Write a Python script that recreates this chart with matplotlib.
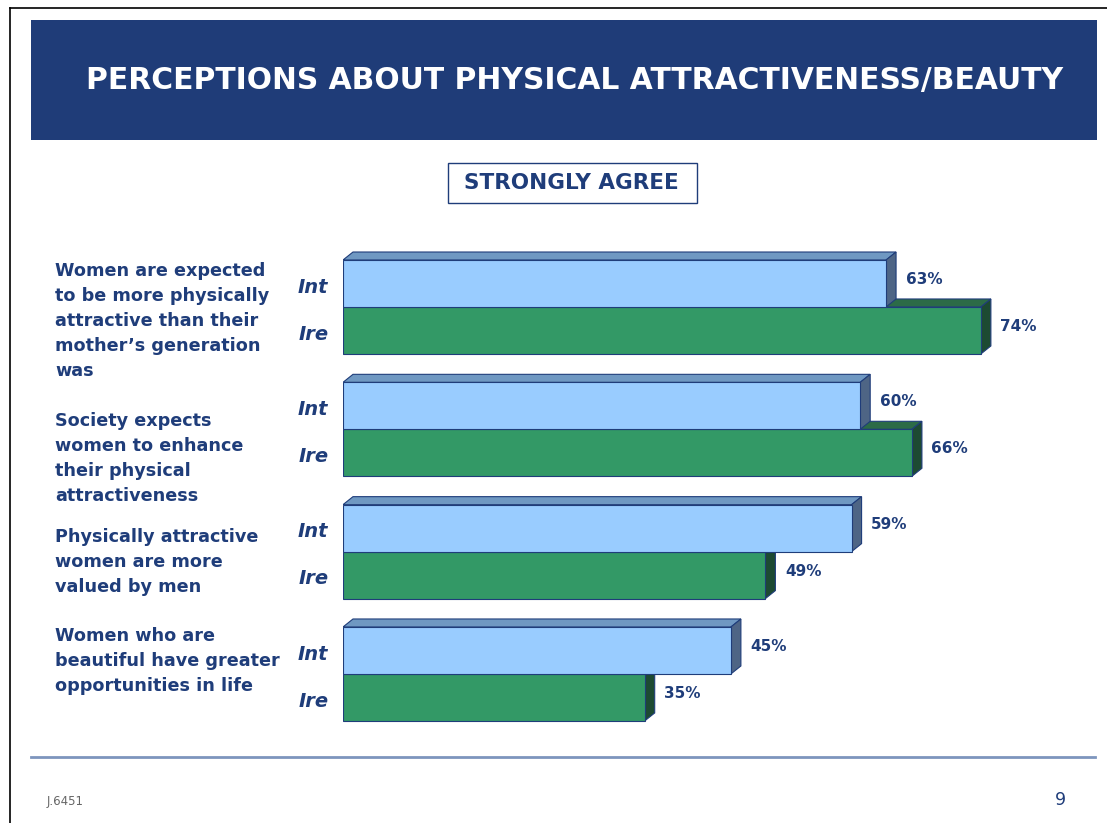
import matplotlib.pyplot as plt
from matplotlib.patches import Polygon, Rectangle
from matplotlib.lines import Line2D

plt.rcParams['font.family'] = ['DejaVu Sans']

# data
categories = [
    "Women are expected\nto be more physically\nattractive than their\nmother\u2019s generation\nwas",
    "Society expects\nwomen to enhance\ntheir physical\nattractiveness",
    "Physically attractive\nwomen are more\nvalued by men",
    "Women who are\nbeautiful have greater\nopportunities in life",
]
series = ["Int", "Ire"]
int_vals = [63, 60, 59, 45]
ire_vals = [74, 66, 49, 35]

W, H = 1107, 823
navy = '#1F3C78'
text_blue = '#1F3D7A'

def fx(px):
    return px / W

def fy(py):
    return 1 - py / H

fig = plt.figure(figsize=(W / 100, H / 100), dpi=100)

# page frame
fig.add_artist(Line2D([fx(10), 1], [fy(8), fy(8)], color='black', lw=1.2))
fig.add_artist(Line2D([fx(10), fx(10)], [fy(8), 0], color='black', lw=1.2))

# banner
fig.add_artist(Rectangle((fx(31), fy(140)), fx(1097) - fx(31), fy(20) - fy(140),
                         transform=fig.transFigure, facecolor=navy, edgecolor='none'))
fig.text(fx(575), fy(80), "PERCEPTIONS ABOUT PHYSICAL ATTRACTIVENESS/BEAUTY",
         color='white', fontsize=21.4, fontweight='bold', ha='center', va='center')

# sub header box
fig.add_artist(Rectangle((fx(448), fy(203)), fx(697) - fx(448), fy(163) - fy(203),
                         transform=fig.transFigure, facecolor='white',
                         edgecolor=text_blue, lw=1))
fig.text(fx(571), fy(183), "STRONGLY AGREE", color=text_blue, fontsize=15.5,
         fontweight='bold', ha='center', va='center')

# bars axes
xmax = 85
left_px, px_per_unit = 343, 8.62
ax = fig.add_axes([fx(left_px), 1 - 729 / H, xmax * px_per_unit / W, (729 - 239.7) / H])
ax.set_xlim(0, xmax)
ax.set_ylim(3.45, -0.55)
ax.axis('off')

h = 0.384
dx = 10 / px_per_unit
dy = 8 / 122.33

styles = {
    "Int": dict(front='#99CCFF', top='#6F98C2', side='#4E6585'),
    "Ire": dict(front='#339966', top='#2C6B47', side='#1D4A32'),
}

for i in range(len(categories)):
    # draw Ire first so Int sits in front
    for name, vals, yc, z in [("Ire", ire_vals, i + h / 2, 2), ("Int", int_vals, i - h / 2, 3)]:
        v = vals[i]
        st = styles[name]
        yt, yb = yc - h / 2, yc + h / 2
        top = Polygon([(0, yt), (dx, yt - dy), (v + dx, yt - dy), (v, yt)],
                      facecolor=st['top'], edgecolor=text_blue, lw=0.8, zorder=z)
        side = Polygon([(v, yt), (v + dx, yt - dy), (v + dx, yb - dy), (v, yb)],
                       facecolor=st['side'], edgecolor=text_blue, lw=0.8, zorder=z)
        ax.add_patch(top)
        ax.add_patch(side)
        ax.barh(yc, v, height=h, color=st['front'], edgecolor=text_blue, lw=0.8, zorder=z)
        ax.text(v + dx + 1.1, yc - dy / 2, f"{v}%", color=text_blue, fontsize=11,
                fontweight='bold', ha='left', va='center')
        ax.text(-1.7, yc + 0.03, name, color=text_blue, fontsize=14, fontweight='bold',
                style='italic', ha='right', va='center', clip_on=False)

# category labels
label_tops = [262, 412, 528, 627]
for lab, t in zip(categories, label_tops):
    fig.text(fx(55), fy(t), lab, color=text_blue, fontsize=12.7, fontweight='bold',
             ha='left', va='top', linespacing=1.5)

# footer
fig.add_artist(Line2D([fx(31), fx(1095)], [fy(757), fy(757)], color='#7D95BD', lw=2))
fig.text(fx(47), fy(802), "J.6451", color='#666666', fontsize=8.5, ha='left', va='center')
fig.text(fx(1066), fy(800), "9", color=text_blue, fontsize=12.5, ha='right', va='center')

fig.savefig('out.png', dpi=100)
